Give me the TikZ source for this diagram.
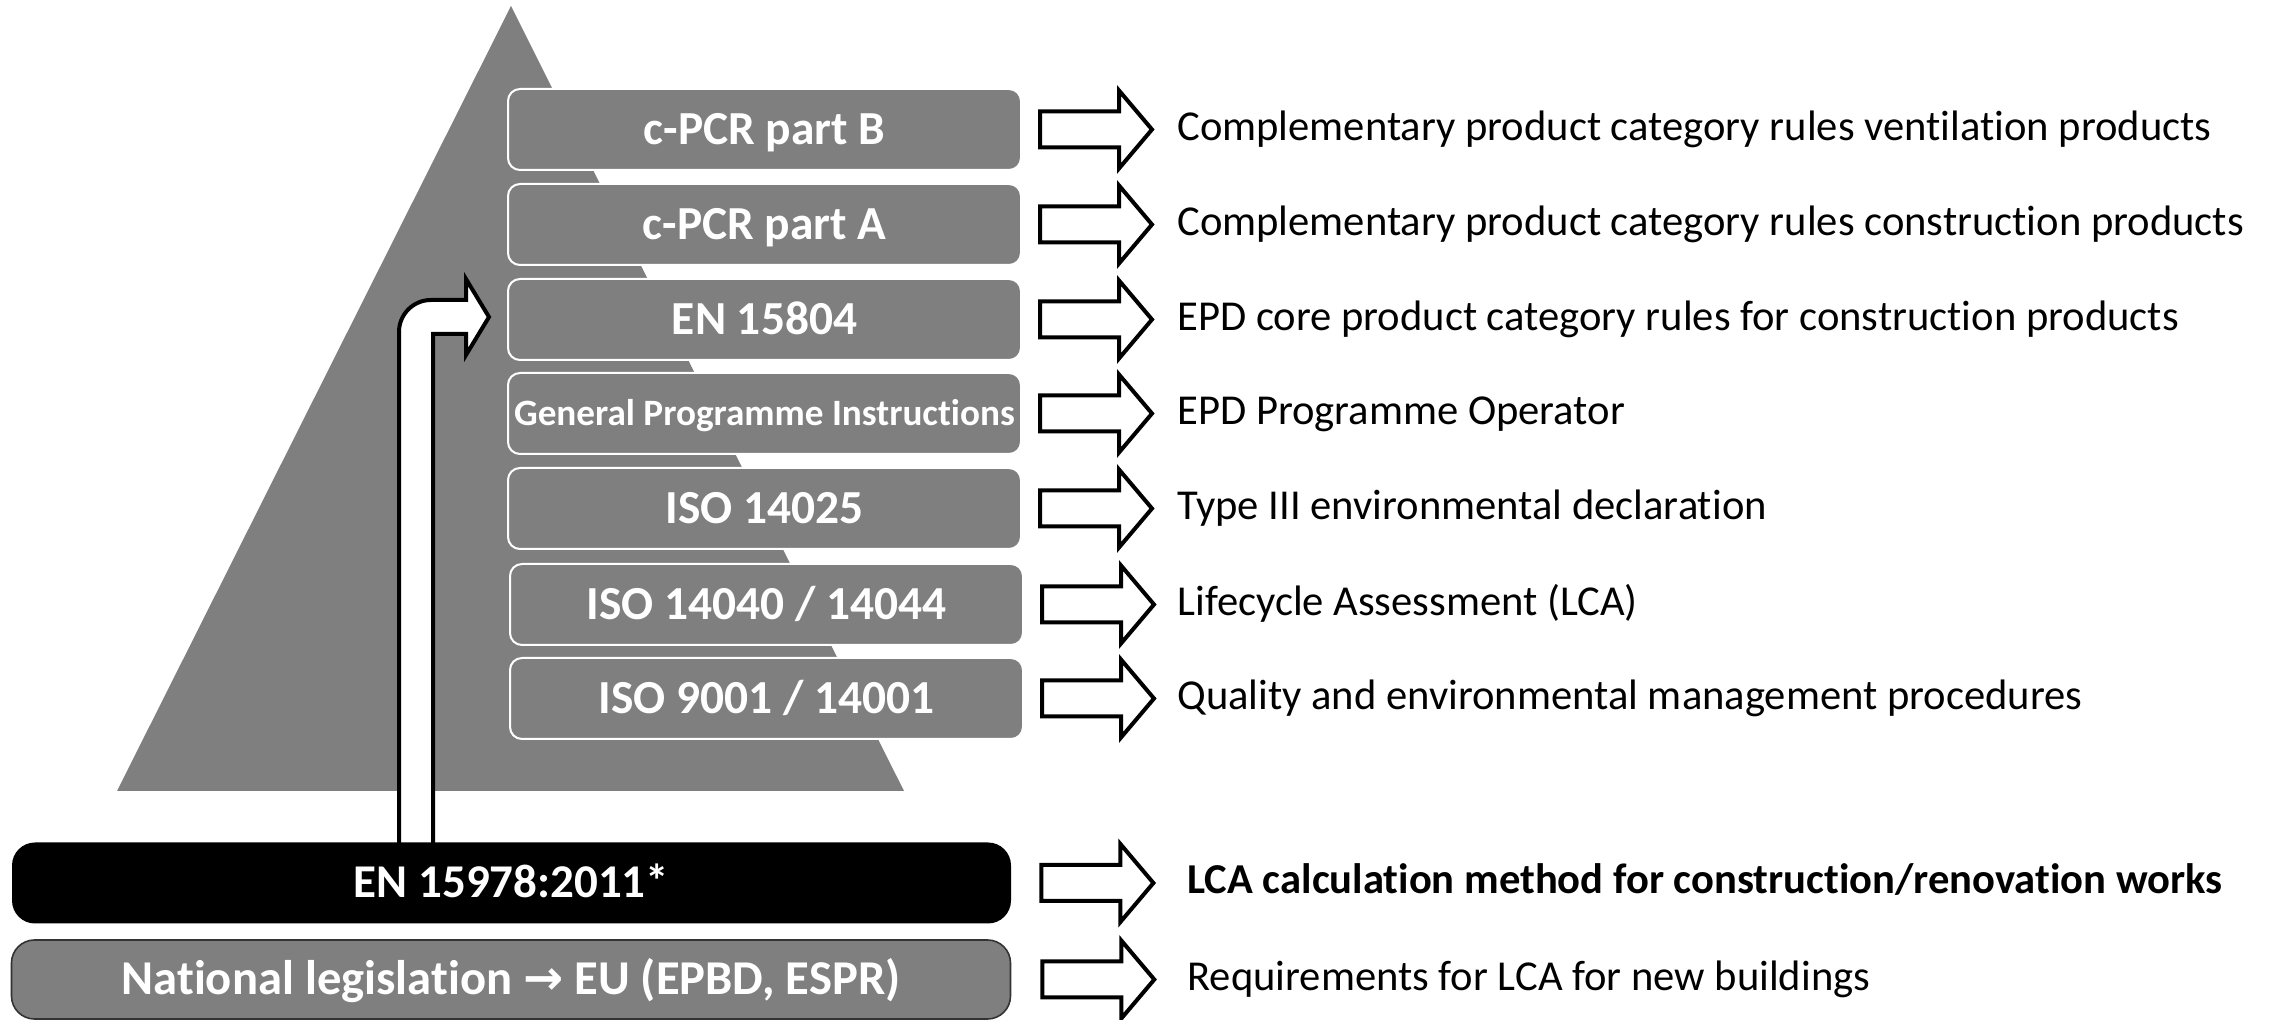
\documentclass[tikz,border=0pt]{standalone}
\usepackage{fontspec}
\setmainfont[Ligatures=NoCommon]{Carlito}
\newfontfamily\symfont{DejaVu Sans}
\usetikzlibrary{calc}
\definecolor{pyrgray}{RGB}{127,127,127}
\begin{document}
\begin{tikzpicture}[x=0.5pt,y=-0.5pt,
  layer/.style={rectangle, rounded corners=6pt, fill=pyrgray, draw=white,
    line width=1pt, minimum width=256.5pt, minimum height=40.5pt,
    inner sep=0pt, text=white, text height=15pt, text depth=0pt,
    font=\fontsize{23.7}{28}\selectfont\bfseries},
  basebar/.style={rectangle, rounded corners=11.5pt, minimum width=499.5pt,
    minimum height=40.5pt, inner sep=0pt, text=white, text height=15pt,
    text depth=0pt, font=\fontsize{23.5}{28}\selectfont\bfseries},
  note/.style={anchor=base west, inner sep=0pt, text=black,
    font=\fontsize{21.3}{25}\selectfont},
  outline/.style={draw=black, line width=2pt, fill=white, line join=miter},
  fatarrow/.pic={\path[outline] (0,-18) -- (79,-18) -- (79,-39) -- (112,0)
    -- (79,39) -- (79,18) -- (0,18) -- cycle;}
]
\useasboundingbox (0,0) rectangle (2272,1020);

% pyramid in the background
\fill[pyrgray] (511,6) -- (904,791) -- (117,791) -- cycle;

% bent arrow rising from the base standard to EN 15804
\path[outline] (399,850) -- (399,332) .. controls (399,314.3) and (413.3,300) .. (431,300)
  -- (466,300) -- (466,279) -- (489,317) -- (466,355) -- (466,334)
  -- (433,334) -- (433,850) -- cycle;

% pyramid layers
\node[layer] (b1) at (764.5,129.5) {c-PCR part B};
\node[layer] (b2) at (764.5,224.5) {c-PCR part A};
\node[layer] (b3) at (764.5,319.5) {EN 15804};
\node[layer, font=\fontsize{18.6}{22}\selectfont\bfseries, text height=12pt] (b4) at (764.5,413.5) {General Programme Instructions};
\node[layer] (b5) at (764.5,508.5) {ISO 14025};
\node[layer] (b6) at (766.5,604.5) {ISO 14040 / 14044};
\node[layer] (b7) at (766.5,698.5) {ISO 9001 / 14001};

% base bars
\node[basebar, fill=black] (en) at (511.5,883) {EN 15978:2011*};
\node[basebar, fill=pyrgray, draw=black!80, line width=0.8pt, minimum height=39.5pt,
  font=\fontsize{24.3}{28}\selectfont\bfseries] (nat) at (511,979.5)
  {National legislation {\symfont\bfseries\fontsize{24}{28}\selectfont →} EU (EPBD, ESPR)};

% block arrows
\foreach \b in {b1,b2,b3,b4,b5,b6,b7}
  \pic (a\b) at ($(\b.east)+(18,0)$) {fatarrow};
\pic (aen) at ($(en.east)+(30,0)$) {fatarrow};
\pic (anat) at ($(nat.east)+(31,0)$) {fatarrow};

% descriptions
\node[note] (t1) at (1177,140.5) {Complementary product category rules ventilation products};
\node[note] (t2) at (1177,235.5) {Complementary product category rules construction products};
\node[note] (t3) at (1177,330.5) {EPD core product category rules for construction products};
\node[note] (t4) at (1177,424.5) {EPD Programme Operator};
\node[note] (t5) at (1177,519.5) {Type III environmental declaration};
\node[note] (t6) at (1177,615.5) {Lifecycle Assessment (LCA)};
\node[note] (t7) at (1177,709.5) {Quality and environmental management procedures};
\node[note, font=\fontsize{21.3}{25}\selectfont\bfseries] (ten) at (1187,894) {LCA calculation method for construction/renovation works};
\node[note] (tnat) at (1187,990.5) {Requirements for LCA for new buildings};
\end{tikzpicture}
\end{document}
